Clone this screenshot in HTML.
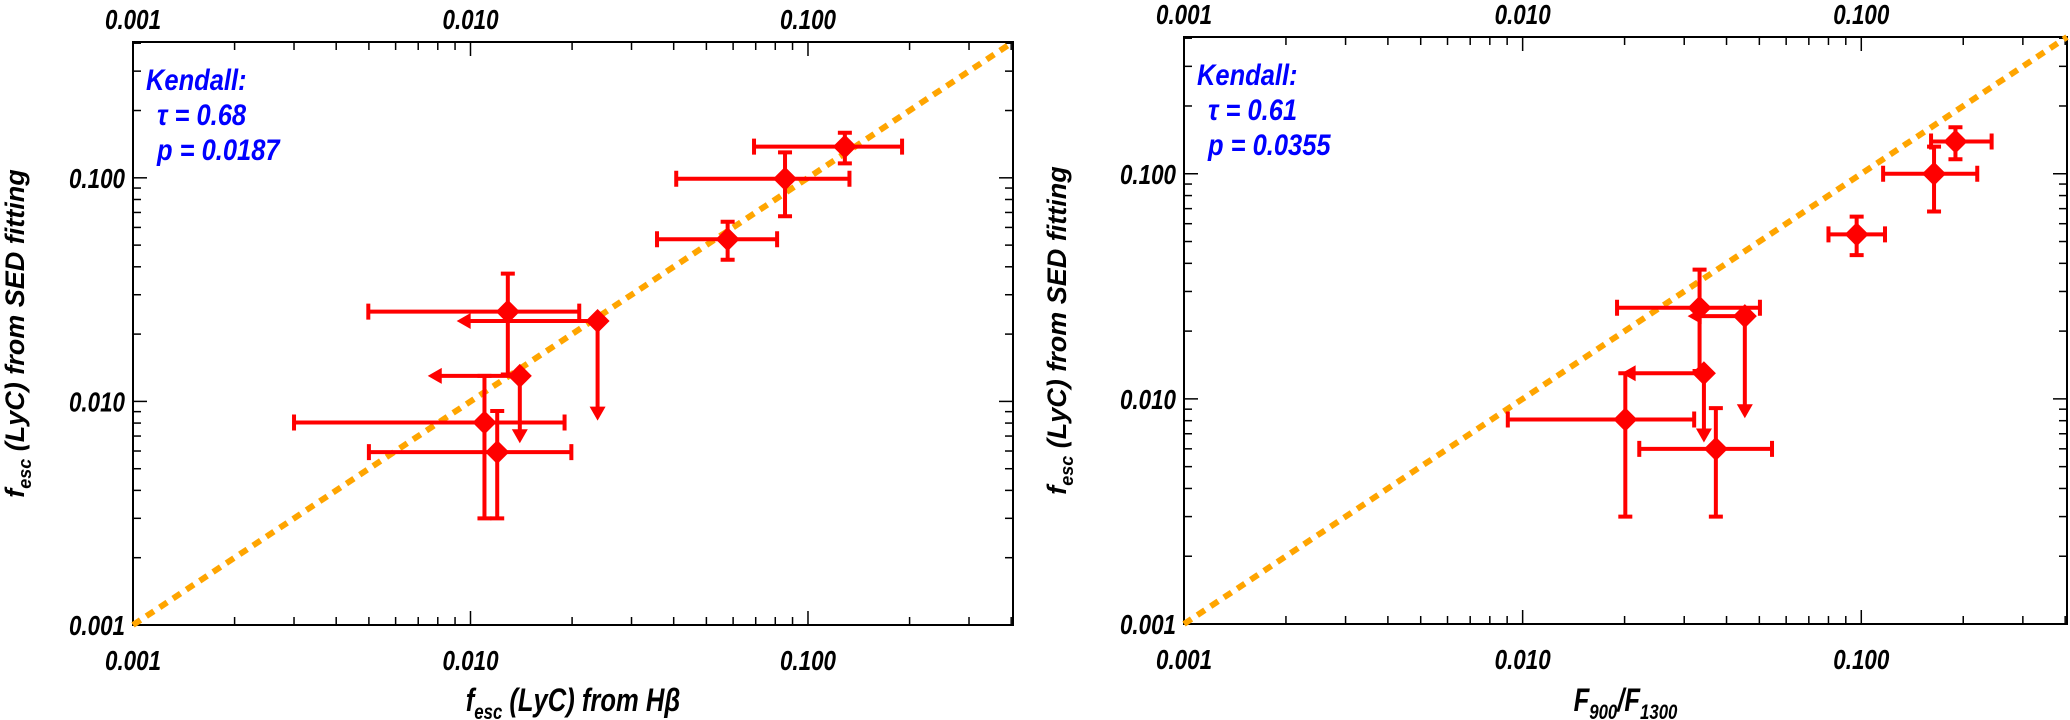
<!DOCTYPE html>
<html><head><meta charset="utf-8"><style>
html,body{margin:0;padding:0;background:#fff;}
svg{display:block;font-family:"Liberation Sans",sans-serif;}
.tk{font-size:28px;font-weight:bold;font-style:italic;fill:#000;}
.ttl{font-size:27px;font-weight:bold;font-style:italic;fill:#000;}
.xttl{font-size:32px;font-weight:bold;font-style:italic;fill:#000;}
.kd{font-size:30px;font-weight:bold;font-style:italic;fill:#0000ff;}
</style></head><body>
<svg id="chart" width="2070" height="720" viewBox="0 0 2070 720" xmlns="http://www.w3.org/2000/svg"></svg>
<script>
// Shared axis range (log10)
const axisMin = 0.001;
const axisMax = 0.405;
const tickLabels = ["0.001", "0.010", "0.100"];
const tickValues = [0.001, 0.01, 0.1];

// Left panel: Hbeta-based fesc vs SED fesc
const leftX = [0.1286, 0.0855, 0.0578, 0.0129, 0.011, 0.012];
const leftY = [0.1378, 0.099, 0.0531, 0.0252, 0.00805, 0.00593];
const leftXLo = [0.0692, 0.0407, 0.0357, 0.00498, 0.003, 0.005];
const leftXHi = [0.190, 0.1327, 0.081, 0.021, 0.019, 0.0199];
const leftYLo = [0.116, 0.0673, 0.043, 0.0132, 0.003, 0.003];
const leftYHi = [0.159, 0.130, 0.0636, 0.0373, 0.013, 0.00906];
const leftLimX = [0.014, 0.0238];
const leftLimY = [0.013, 0.0229];
const leftLimXTo = [0.00747, 0.0091];
const leftLimYTo = [0.0065, 0.0082];

// Right panel: F900/F1300 vs SED fesc
const rightX = [0.1897, 0.164, 0.0969, 0.0333, 0.0201, 0.0372];
const rightY = [0.139, 0.100, 0.0538, 0.0254, 0.0081, 0.006];
const rightXLo = [0.1607, 0.116, 0.080, 0.019, 0.00904, 0.0221];
const rightXHi = [0.2426, 0.220, 0.1175, 0.0502, 0.0321, 0.0545];
const rightYLo = [0.116, 0.068, 0.0435, 0.0133, 0.003, 0.003];
const rightYHi = [0.161, 0.132, 0.0645, 0.0375, 0.013, 0.0091];
const rightLimX = [0.0343, 0.0453];
const rightLimY = [0.013, 0.0233];
const rightLimXTo = [0.0196, 0.0307];
const rightLimYTo = [0.0064, 0.0082];

const NS = "http://www.w3.org/2000/svg";
const svg = document.getElementById("chart");
function mk(tag, attrs, parent) {
  const e = document.createElementNS(NS, tag);
  for (const k in attrs) e.setAttribute(k, attrs[k]);
  (parent || svg).appendChild(e);
  return e;
}
function ctext(parent, x, y, anchor, cls, sxf) {
  return mk("text", {transform: `translate(${x},${y}) scale(${sxf},1)`, x: 0, y: 0, "text-anchor": anchor, class: cls}, parent);
}

function panel(cfg) {
  const g = mk("g", {});
  
  
  const L = Math.log10(axisMin), H = Math.log10(axisMax);
  const sx = v => cfg.x0 + (Math.log10(v) - L) / (H - L) * (cfg.x1 - cfg.x0);
  const sy = v => cfg.y1 - (Math.log10(v) - L) / (H - L) * (cfg.y1 - cfg.y0);

  const tg = mk("g", {stroke: "#000", "stroke-width": 1.5}, g);
  
  
  for (let d = -3; d <= 0; d++) {
    for (let m = 1; m <= 9; m++) {
      const v = m * Math.pow(10, d);
      if (v < axisMin || v > axisMax) continue;
      const len = m === 1 ? 14 : 8;
      const x = sx(v), y = sy(v);
      mk("line", {x1: x, y1: cfg.y1, x2: x, y2: cfg.y1 - len}, tg);
      mk("line", {x1: x, y1: cfg.y0, x2: x, y2: cfg.y0 + len}, tg);
      mk("line", {x1: cfg.x0, y1: y, x2: cfg.x0 + len, y2: y}, tg);
      mk("line", {x1: cfg.x1, y1: y, x2: cfg.x1 - len, y2: y}, tg);
    }
  }
  const frame = mk("rect", {x: cfg.x0, y: cfg.y0, width: cfg.x1 - cfg.x0, height: cfg.y1 - cfg.y0, fill: "none", stroke: "#000", "stroke-width": 2}, g);
  
  

  tickValues.forEach((v, i) => {
    const b = ctext(g, sx(v), cfg.y1 + 45, "middle", "tk", 0.8);
    b.textContent = tickLabels[i];
    
    
    const t = ctext(g, sx(v), cfg.y0 - 13, "middle", "tk", 0.8);
    t.textContent = tickLabels[i];
    
    
    const l = ctext(g, cfg.x0 - 8, sy(v) + 10, "end", "tk", 0.8);
    l.textContent = tickLabels[i];
    
    
  });

  const dl = mk("line", {x1: sx(axisMin), y1: sy(axisMin), x2: sx(axisMax), y2: sy(axisMax), stroke: "#ffa500", "stroke-width": 6, "stroke-dasharray": "9 7"}, g);
  
  

  const red = "#ff0000";
  const dg = mk("g", {stroke: red, "stroke-width": 4, fill: red}, g);
  
  
  const diamond = (x, y) => {
    const p = mk("polygon", {points: `${x},${y-12} ${x+12},${y} ${x},${y+12} ${x-12},${y}`, stroke: "none"}, dg);
    
    
  };
  cfg.X.forEach((xv, i) => {
    const x = sx(xv), y = sy(cfg.Y[i]);
    const a = sx(cfg.XLo[i]), b = sx(cfg.XHi[i]), c = sy(cfg.YLo[i]), d = sy(cfg.YHi[i]);
    const e = mk("path", {d: `M${a},${y}H${b}M${a},${y-8}V${y+8}M${b},${y-8}V${y+8}M${x},${c}V${d}M${x-7},${c}H${x+7}M${x-7},${d}H${x+7}`, fill: "none"}, dg);
    
    
    diamond(x, y);
  });
  cfg.LX.forEach((xv, i) => {
    const x = sx(xv), y = sy(cfg.LY[i]);
    const xa = sx(cfg.LXTo[i]), ya = sy(cfg.LYTo[i]);
    const e = mk("path", {d: `M${x},${y}H${xa + 12}M${x},${y}V${ya - 12}`, fill: "none"}, dg);
    
    
    mk("polygon", {points: `${xa},${y} ${xa+14},${y-8} ${xa+14},${y+8}`, stroke: "none"}, dg);
    mk("polygon", {points: `${x},${ya} ${x-8},${ya-14} ${x+8},${ya-14}`, stroke: "none"}, dg);
    diamond(x, y);
  });

  const k = ctext(g, cfg.x0 + 13, cfg.y0 + 48, "start", "kd", 0.85);
  k.textContent = "Kendall:";
  
  
  const t2 = ctext(g, cfg.x0 + 24, cfg.y0 + 83, "start", "kd", 0.85);
  t2.textContent = cfg.tau;
  
  
  const t3 = ctext(g, cfg.x0 + 24, cfg.y0 + 118, "start", "kd", 0.85);
  t3.textContent = cfg.p;
  
  

  const yt = mk("text", {transform: `translate(${cfg.ytx},${(cfg.y0 + cfg.y1) / 2}) rotate(-90)`, "text-anchor": "middle", class: "ttl"}, g);
  yt.innerHTML = 'f<tspan font-size="18" dy="7">esc</tspan><tspan dy="-7"> (LyC) from SED fitting</tspan>';
  
  
  const xt = ctext(g, (cfg.x0 + cfg.x1) / 2, 711, "middle", "xttl", 0.8);
  xt.innerHTML = cfg.xtitle;
  
  
}

panel({name: "left-panel", x0: 133, x1: 1013, y0: 42, y1: 625, ytx: 24,
  X: leftX, Y: leftY, XLo: leftXLo, XHi: leftXHi, YLo: leftYLo, YHi: leftYHi,
  LX: leftLimX, LY: leftLimY, LXTo: leftLimXTo, LYTo: leftLimYTo,
  tau: "τ = 0.68", p: "p = 0.0187",
  xtitle: 'f<tspan font-size="21" dy="8">esc</tspan><tspan dy="-8"> (LyC) from Hβ</tspan>'});
panel({name: "right-panel", x0: 1184, x1: 2067, y0: 37, y1: 624, ytx: 1066,
  X: rightX, Y: rightY, XLo: rightXLo, XHi: rightXHi, YLo: rightYLo, YHi: rightYHi,
  LX: rightLimX, LY: rightLimY, LXTo: rightLimXTo, LYTo: rightLimYTo,
  tau: "τ = 0.61", p: "p = 0.0355",
  xtitle: 'F<tspan font-size="21" dy="8">900</tspan><tspan dy="-8">/F</tspan><tspan font-size="21" dy="8">1300</tspan>'});
</script>
</body></html>
